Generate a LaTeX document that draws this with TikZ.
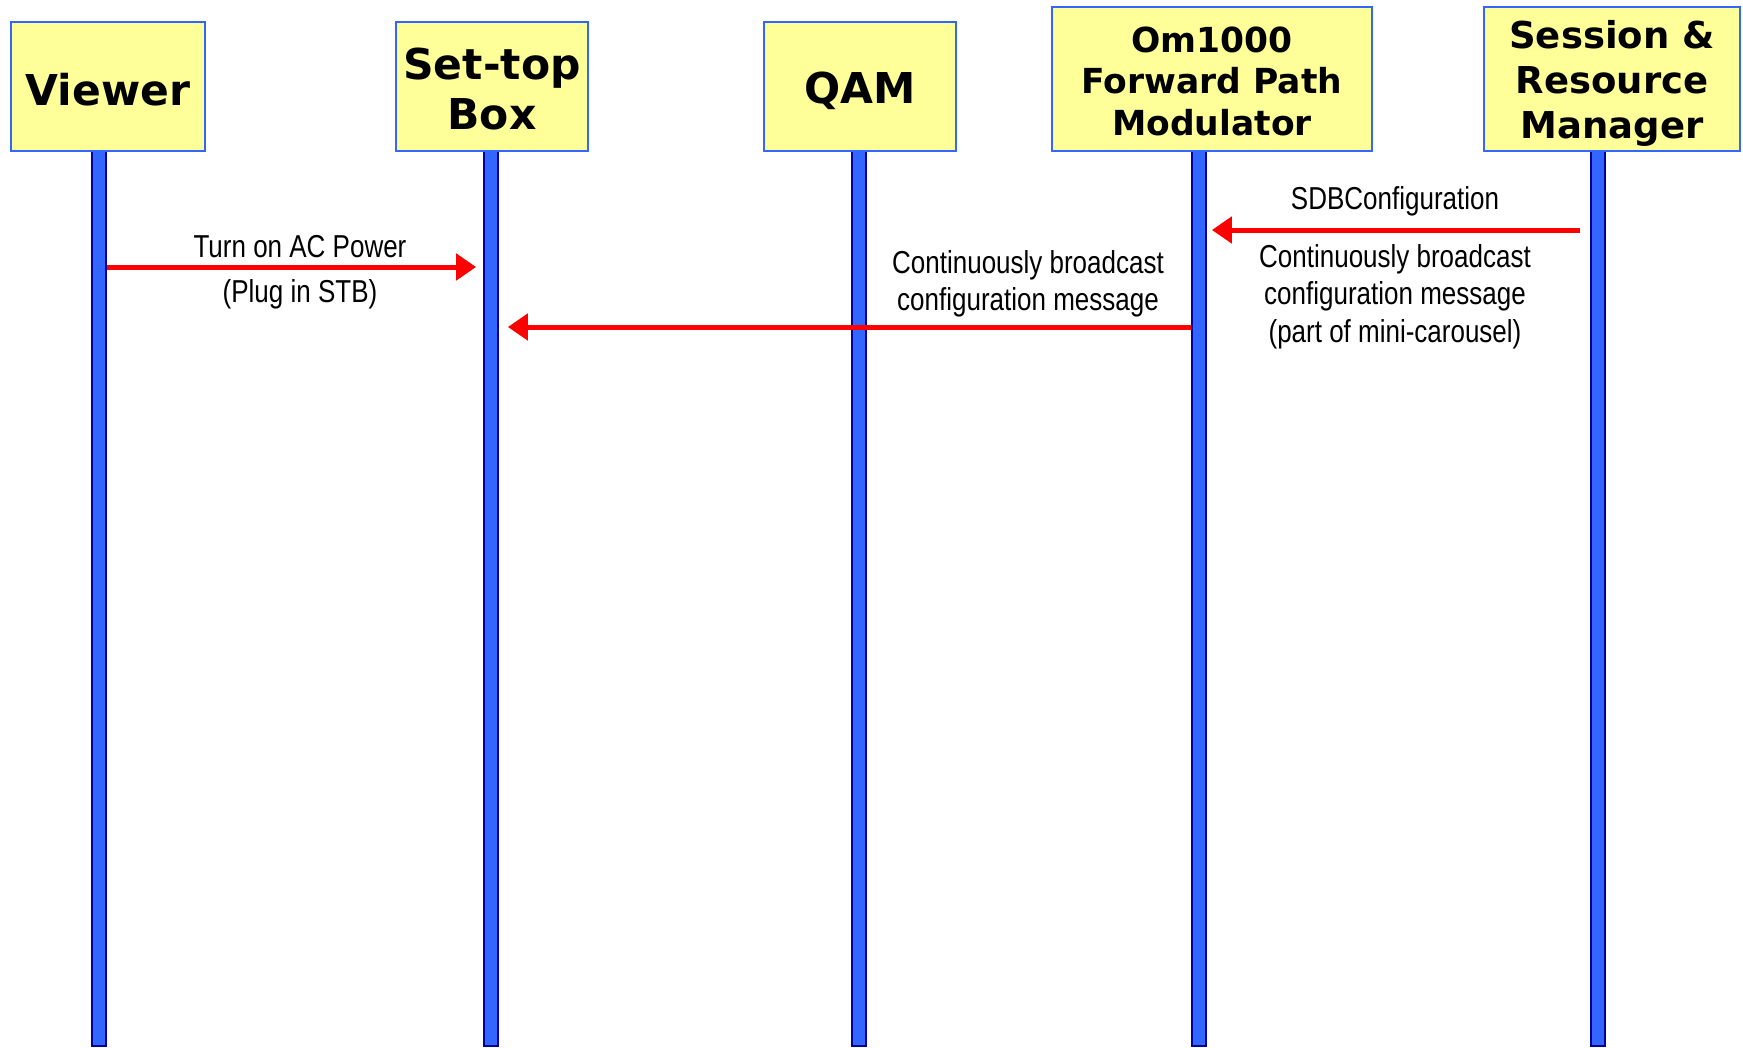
\documentclass[tikz,border=0pt]{standalone}
\usepackage{fontspec}
\setmainfont{Liberation Sans}
\newfontfamily\hdrfont{DejaVu Sans}
\newfontfamily\lblfont[FakeStretch=0.82]{Liberation Sans}
\usetikzlibrary{arrows.meta}
\definecolor{boxfill}{HTML}{FFFF99}
\definecolor{boxline}{HTML}{3366FF}
\definecolor{lifefill}{HTML}{3366FF}
\definecolor{lifeedge}{HTML}{000099}
\definecolor{msgred}{HTML}{FF0000}
\begin{document}
\begin{tikzpicture}[x=1pt,y=-1pt,
  header/.style={draw=boxline, line width=2.8pt, fill=boxfill, inner sep=0pt},
  htext/.style={align=center, inner sep=0pt},
  hbig/.style={font={\hdrfont\bfseries\fontsize{42.5}{50}\selectfont}},
  lifebar/.style={draw=lifeedge, line width=1.8pt, fill=lifefill, minimum width=14pt, minimum height=895pt, inner sep=0pt},
  msg/.style={draw=msgred, line width=5pt, -{Triangle[length=20pt,width=26pt]}},
  lbl/.style={font={\lblfont\fontsize{31.7}{38}\selectfont}, anchor=base, inner sep=0pt}]
\useasboundingbox (0,0) rectangle (1743,1047);
\fill[white] (0,0) rectangle (1743,1047);
% lifelines
\node[lifebar] (vl) at (99,598.5) {};
\node[lifebar] (sl) at (491,598.5) {};
\node[lifebar] (ql) at (859,598.5) {};
\node[lifebar] (ol) at (1199,598.5) {};
\node[lifebar] (rl) at (1598,598.5) {};
% headers
\node[header, minimum width=194pt, minimum height=129pt] (viewer) at (108,86.5) {};
\node[header, minimum width=192pt, minimum height=129pt] (stb) at (492,86.5) {};
\node[header, minimum width=192pt, minimum height=129pt] (qam) at (860,86.5) {};
\node[header, minimum width=320pt, minimum height=144pt] (om) at (1212,79) {};
\node[header, minimum width=256pt, minimum height=144pt] (srm) at (1612,79) {};
\node[htext, hbig] (viewertxt) at ([yshift=-3pt]viewer.center) {Viewer};
\node[htext, hbig] (stbtxt) at ([yshift=-3pt]stb.center) {Set-top\\Box};
\node[htext, hbig] (qamtxt) at ([yshift=-4pt]qam.center) {QAM};
\node[htext, font={\hdrfont\bfseries\fontsize{34.5}{41.5}\selectfont}] (omtxt) at ([yshift=-2pt]om.center) {Om1000\\Forward Path\\Modulator};
\node[htext, font={\hdrfont\bfseries\fontsize{37}{45}\selectfont}] (srmtxt) at ([yshift=-4pt]srm.center) {Session \&\\Resource\\Manager};
% messages
\coordinate (m1) at (0,267);
\coordinate (m2) at (0,230);
\coordinate (m3) at (0,327);
\draw[msg, shorten >=7pt] (vl.east |- m1) -- (sl.west |- m1);
\draw[msg, shorten <=10pt, shorten >=5pt] (rl.west |- m2) -- (ol.east |- m2);
\draw[msg, shorten >=9pt] (ol.west |- m3) -- (sl.east |- m3);
% labels
\node[lbl] (t1a) at (300,257) {Turn on AC Power};
\node[lbl] (t1b) at (300,302) {(Plug in STB)};
\node[lbl] (t2a) at (1395,209) {SDBConfiguration};
\node[lbl] (t2b) at (1395,267) {Continuously broadcast};
\node[lbl] (t2c) at (1395,304) {configuration message};
\node[lbl] (t2d) at (1395,342) {(part of mini-carousel)};
\node[lbl] (t3a) at (1028,273) {Continuously broadcast};
\node[lbl] (t3b) at (1028,310) {configuration message};
\end{tikzpicture}
\end{document}
